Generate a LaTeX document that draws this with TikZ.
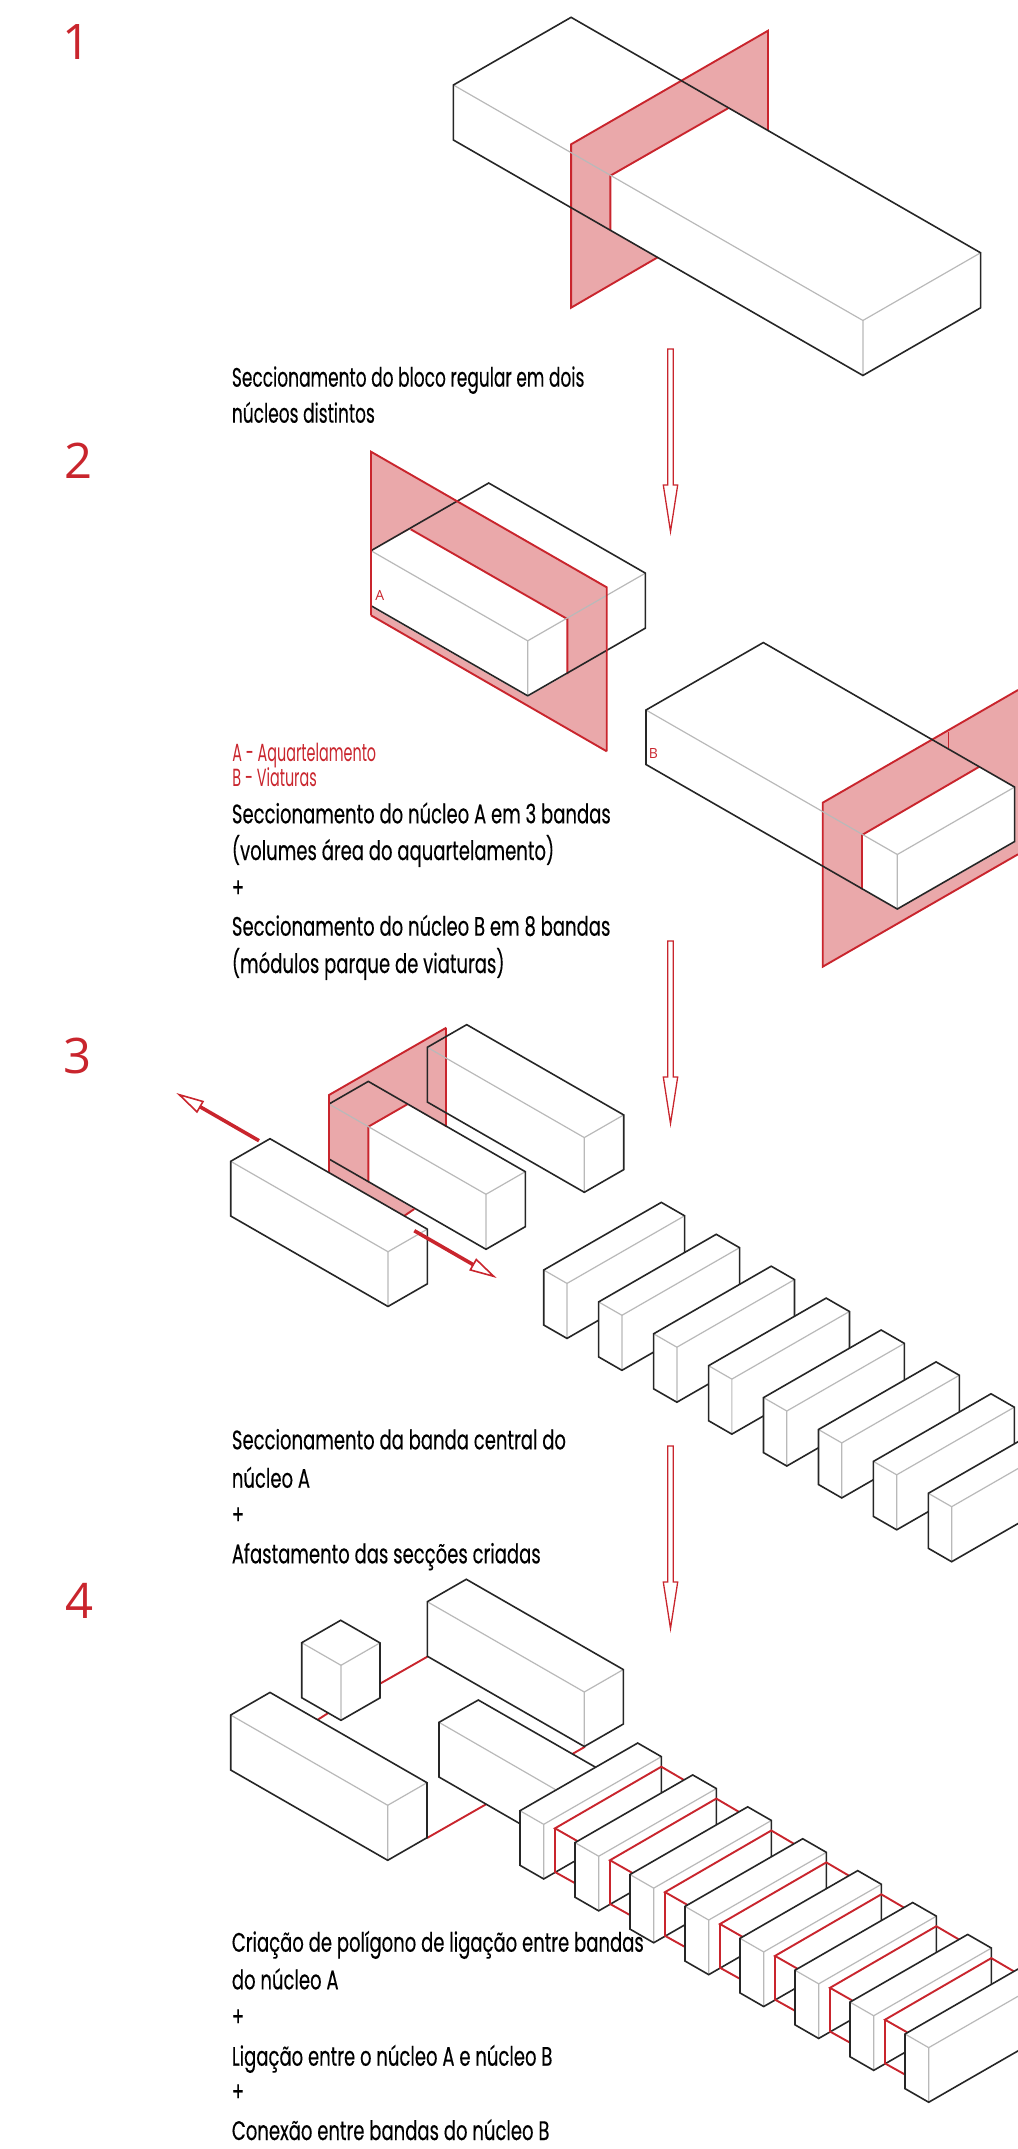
\documentclass[tikz,border=0pt]{standalone}
\usepackage{fontspec}
\setmainfont[FakeStretch=0.673,FakeBold=0.25]{Poppins}
\newfontfamily\introfont[FakeStretch=0.635,FakeBold=0.25]{Poppins}
\newfontfamily\legendfont[FakeStretch=0.58]{Poppins}
\newfontfamily\digitfont{Open Sans}
\definecolor{secred}{HTML}{C9252D}
\definecolor{secpink}{HTML}{EAA8AA}
\definecolor{edgegray}{HTML}{B9B9B9}

\tikzset{
  blockline/.style={black!85,line width=0.8pt,line join=miter},
  thinline/.style={edgegray,line width=0.6pt},
  redline/.style={secred,line width=0.95pt,line join=miter},
  plane/.style={secpink},
  stepnum/.style={anchor=base,inner sep=0pt,secred,font=\digitfont\fontsize{24.5}{24.5}\selectfont},
  steptext/.style={anchor=base west,inner sep=0pt,font=\fontsize{13.4}{13.4}\selectfont},
  introtext/.style={anchor=base west,inner sep=0pt,font=\introfont\fontsize{13.4}{13.4}\selectfont},
  redtext/.style={anchor=base west,inner sep=0pt,secred,font=\legendfont\fontsize{12.4}{12.4}\selectfont},
  zonetag/.style={inner sep=0pt,secred,font=\digitfont\fontsize{7}{7}\selectfont},
  downarrow/.style={secred,line width=0.65pt,fill=white,line join=miter},
}

% iso block: [fill], left corner x, y, back run, front run, height
\newcommand{\isoblock}[6][fill=white]{
  \path[#1] (#2,#3) -- ++(#4,-0.575*#4) -- ++(#5,0.575*#5) -- ++(0,#6) -- ++(-#4,0.575*#4) -- ++(-#5,-0.575*#5) -- cycle;
  \draw[thinline] (#2,#3) -- ++(#5,0.575*#5) -- ++(0,#6);
  \draw[thinline] (#2,#3) ++(#5,0.575*#5) -- ++(#4,-0.575*#4);
  \draw[blockline] (#2,#3) -- ++(#4,-0.575*#4) -- ++(#5,0.575*#5) -- ++(0,#6) -- ++(-#4,0.575*#4) -- ++(-#5,-0.575*#5) -- cycle;
}

\begin{document}
\begin{tikzpicture}[x=0.5pt,y=-0.5pt]

  \useasboundingbox (0,0) rectangle (1018,2149);
  \clip (0,0) rectangle (1018,2149);

  % step numbers
  \node[stepnum] (num1) at (77,59.5) {1};
  \node[stepnum] (num2) at (79,478) {2};
  \node[stepnum] (num3) at (78,1073) {3};
  \node[stepnum] (num4) at (80,1618) {4};

  % step 1: section plane through the block
  \fill[plane] (571.1,144.3) -- (768,30.7) -- (768,130) -- (728,108.3) -- (610.3,175.7) -- (610.3,230) -- (657.7,257.3) -- (571.1,307.7) -- cycle;
  \draw[redline] (657.7,257.3) -- (571.1,307.7) -- (571.1,144.3) -- (768,30.7) -- (768,130);
  \draw[redline] (728,108.3) -- (610.3,175.7) -- (610.3,230);
  \isoblock[fill=none]{453.4}{85}{117.7}{409.5}{55}

  \node[introtext] (txt1a) at (231.5,386.7) {Seccionamento do bloco regular em dois};
  \node[introtext] (txt1b) at (231.5,422.7) {núcleos distintos};

  % step 2: nucleus A
  \fill[plane] (371,451.7) -- (606.7,587.3) -- (606.7,751.3) -- (371,615.3) -- cycle;
  \fill[white] (371,550.7) -- (410.7,529.3) -- (567.3,619) -- (567.3,674) -- (527.7,696.7) -- (371,606.7) -- cycle;
  \draw[redline] (606.7,751.3) -- (371,615.3);
  \draw[redline] (410.7,529.3) -- (567.3,619) -- (567.3,674);
  \isoblock[fill=none]{371}{550.7}{117.7}{156.7}{55}
  \draw[redline] (371,615.3) -- (371,451.7) -- (606.7,587.3) -- (606.7,751.3);
  \node[zonetag] (tagA) at (379.7,595) {A};

  % step 2: nucleus B
  \fill[plane] (822.7,802.7) -- (1018,690) -- (1018,854.3) -- (822.7,966.7) -- cycle;
  \fill[white] (862,835) -- (979.3,766.7) -- (1015,787.7) -- (1015,842.3) -- (897.3,909.3) -- (862,889.3) -- cycle;
  \draw[secred,line width=0.2pt] (948.3,731.7) -- (948.3,748);
  \draw[redline] (1018,854.3) -- (822.7,966.7) -- (822.7,802.7) -- (1018,690);
  \draw[redline] (979.3,766.7) -- (862,835) -- (862,889.3);
  \isoblock[fill=none]{646}{710}{117.3}{251.3}{54.5}
  \node[zonetag] (tagB) at (653.3,753.3) {B};

  \node[redtext] (leg1) at (232,761.7) {A - Aquartelamento};
  \node[redtext] (leg2) at (232,786.7) {B - Viaturas};
  \node[steptext] (txt2a) at (231.5,823.3) {Seccionamento do núcleo A em 3 bandas};
  \node[steptext] (txt2b) at (231.5,860) {(volumes área do aquartelamento)};
  \node[steptext] (txt2c) at (231.5,897) {+};
  \node[steptext] (txt2d) at (231.5,935.7) {Seccionamento do núcleo B em 8 bandas};
  \node[steptext] (txt2e) at (231.5,973) {(módulos parque de viaturas)};

  % step 3: central band cut, sections pulled apart
  \fill[plane] (329,1095) -- (446.3,1027.7) -- (446.3,1127.3) -- (407.3,1104.3) -- (368.3,1126.7) -- (368.3,1182) -- (414.3,1209) -- (404,1216) -- (329,1172.7) -- cycle;
  \draw[redline] (446.3,1027.7) -- (446.3,1127.3);
  \draw[redline] (407.3,1104.3) -- (368.3,1126.7) -- (368.3,1182);
  \isoblock[fill=none]{427.3}{1047.3}{39.4}{157}{54.7}
  \isoblock[fill=none]{329}{1104}{39.3}{157}{55}
  \draw[redline] (329,1172.7) -- (329,1095) -- (446.3,1027.7);
  \draw[redline] (404,1216) -- (414.3,1209);
  \isoblock{230.7}{1161.3}{39.3}{157.3}{54.7}

  % pull-apart arrows
  \coordinate (pullLtail) at (259,1140.7);
  \coordinate (pullLbase) at (200,1106.7);
  \coordinate (pullRtail) at (414.3,1230.7);
  \coordinate (pullRbase) at (473.3,1264.7);
  \draw[secred,line width=1.8pt] (pullLtail) -- (pullLbase);
  \draw[downarrow,line width=0.8pt] (179.3,1094.7) -- (197,1111.9) -- (203,1101.5) -- cycle;
  \draw[secred,line width=1.8pt] (pullRtail) -- (pullRbase);
  \draw[downarrow,line width=0.8pt] (493.7,1276.3) -- (470.3,1269.9) -- (476.3,1259.5) -- cycle;

  % eight bands of nucleus B
  \foreach \b in {0,...,7} {
    \begin{scope}[shift={(\b*54.95,\b*31.9)}]
      \isoblock{543.7}{1270}{117.6}{23.3}{55}
    \end{scope}
  }

  \node[steptext] (txt3a) at (231.5,1449.3) {Seccionamento da banda central do};
  \node[steptext] (txt3b) at (231.5,1487.7) {núcleo A};
  \node[steptext] (txt3c) at (231.5,1524) {+};
  \node[steptext] (txt3d) at (231.5,1563.3) {Afastamento das secções criadas};

  % step 4: links between the volumes
  \draw[redline] (380,1683.7) -- (427.3,1656.7);
  \draw[redline] (328.7,1712.7) -- (317.3,1720);
  \draw[redline] (427,1838) -- (486,1804.3);
  \draw[redline] (585,1746.7) -- (572.3,1754);
  \isoblock{427.3}{1601.7}{39}{157}{54.5}
  \isoblock{301.7}{1642.7}{39}{39.3}{55}
  \isoblock{230.7}{1715}{39.3}{157}{55}
  \draw[thinline] (439,1722.3) -- (555,1789.3);
  \draw[blockline] (519.3,1823.3) -- (439,1777) -- (439,1722.3) -- (478.3,1700) -- (595.7,1767.3);

  \foreach \b in {0,...,7} {
    \begin{scope}[shift={(\b*55,\b*31.9)}]
      \isoblock{520}{1810.7}{117.7}{23.7}{54.6}
      \ifnum\b<7
        \draw[redline] (684,1780) -- (661.3,1766.7) -- (555,1828.3) -- (577.3,1841);
        \draw[redline] (555,1828.3) -- (555,1872) -- (575.3,1883.3);
      \fi
    \end{scope}
  }

  \node[steptext] (txt4a) at (231.5,1951.7) {Criação de polígono de ligação entre bandas};
  \node[steptext] (txt4b) at (231.5,1989.3) {do núcleo A};
  \node[steptext] (txt4c) at (231.5,2026) {+};
  \node[steptext] (txt4d) at (231.5,2065.7) {Ligação entre o núcleo A e núcleo B};
  \node[steptext] (txt4e) at (231.5,2101) {+};
  \node[steptext] (txt4f) at (231.5,2140) {Conexão entre bandas do núcleo B};

  % downward arrows between steps
  \foreach \y in {349,941,1446} {
    \draw[downarrow] (667.7,\y) -- (673.3,\y) -- (673.3,\y+136) -- (677.7,\y+136) -- (670.5,\y+182.5) -- (663.3,\y+136) -- (667.7,\y+136) -- cycle;
  }

\end{tikzpicture}
\end{document}
